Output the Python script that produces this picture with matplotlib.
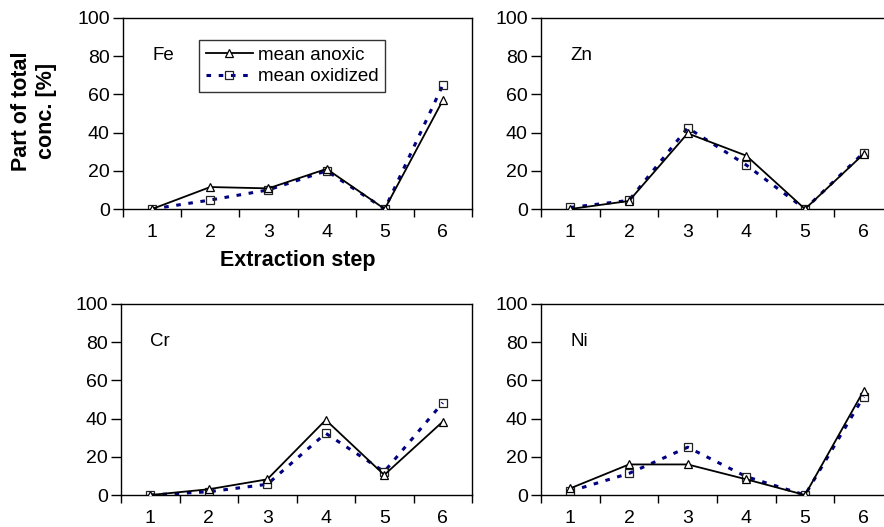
import matplotlib
matplotlib.use("Agg")
import matplotlib.pyplot as plt
from matplotlib.ticker import FixedLocator, NullFormatter

plt.rcParams['font.family'] = ['Liberation Sans', 'DejaVu Sans']

steps = [1, 2, 3, 4, 5, 6]
elements = ["Fe", "Zn", "Cr", "Ni"]
fe_anoxic = [0, 11.5, 10.8, 21, 0, 57]
fe_oxidized = [0, 4.7, 10, 20, 0, 65]
zn_anoxic = [0, 4.2, 39.6, 27.9, 0, 28.8]
zn_oxidized = [0.8, 4.5, 42.5, 23, 0, 29.5]
cr_anoxic = [0, 3, 8.2, 39.3, 10.5, 38.4]
cr_oxidized = [0, 1.7, 5.6, 32.3, 12.2, 48.3]
ni_anoxic = [3.5, 16, 16, 8.2, 0, 54.6]
ni_oxidized = [2, 11.3, 25, 9.6, 0, 51.5]
anoxic = [fe_anoxic, zn_anoxic, cr_anoxic, ni_anoxic]
oxidized = [fe_oxidized, zn_oxidized, cr_oxidized, ni_oxidized]
yticks = [0, 20, 40, 60, 80, 100]

W, H = 884, 527
fig = plt.figure(figsize=(W / 100, H / 100), dpi=100)

boxes = [
    (123, 18, 472, 209),
    (541, 18, 893, 209),
    (121, 304, 472, 495),
    (541, 304, 893, 495),
]

for i, (x0, y0, x1, y1) in enumerate(boxes):
    ax = fig.add_axes([x0 / W, 1 - y1 / H, (x1 - x0) / W, (y1 - y0) / H])
    l1, = ax.plot(steps, anoxic[i], color='black', lw=1.3, marker='^', ms=6,
                  mfc='white', mec='black', mew=0.9, label='mean anoxic', zorder=3)
    l2, = ax.plot(steps, oxidized[i], color='#000080', lw=2.2, ls=(0, (1.5, 2.5)),
                  marker='s', ms=6, mfc='none', mec='#222222', mew=0.9,
                  label='mean oxidized', zorder=2)
    ax.set_xlim(0.5, 6.5)
    ax.set_ylim(0, 100)
    ax.set_yticks(yticks)
    ax.tick_params(axis='y', direction='out', length=7.5, width=1, labelsize=14, pad=2)
    ax.xaxis.set_major_locator(FixedLocator([0.5 + k for k in range(7)]))
    ax.xaxis.set_major_formatter(NullFormatter())
    ax.set_xticks(steps, minor=True)
    ax.set_xticklabels([str(s) for s in steps], minor=True)
    ax.tick_params(axis='x', which='major', direction='out', length=6, width=1)
    ax.tick_params(axis='x', which='minor', length=0, labelsize=14, pad=11)
    for sp in ax.spines.values():
        sp.set_linewidth(1.0)
        sp.set_color('black')
    ax.text(1.0, 80.5, elements[i], fontsize=13.5, ha='left', va='center')
    if i == 0:
        leg = ax.legend(handles=[l1, l2], loc='upper left',
                        bbox_to_anchor=(0.218, 0.885), fontsize=13.5,
                        frameon=True, fancybox=False, edgecolor='black',
                        handlelength=2.5, borderpad=0.35, labelspacing=0.25,
                        handletextpad=0.27, borderaxespad=0)
        leg.get_frame().set_linewidth(1.0)
        ax.set_xlabel('Extraction step', fontsize=15.5, fontweight='bold', labelpad=6)

fig.text(34 / W, 1 - 111 / H, 'Part of total\nconc. [%]', rotation=90,
         fontsize=15.5, fontweight='bold', ha='center', va='center',
         multialignment='center', linespacing=1.2)

fig.savefig('out.png', dpi=100)
